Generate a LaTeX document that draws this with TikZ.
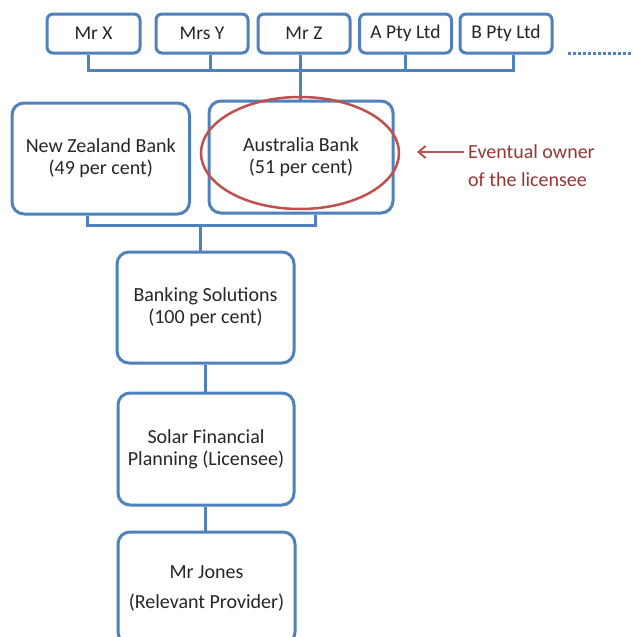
\documentclass[tikz,border=0pt]{standalone}
\usepackage{fontspec}
\setmainfont{Carlito}
\usetikzlibrary{arrows.meta,shapes.geometric}
\definecolor{boxblue}{HTML}{4F81BD}
\definecolor{ovred}{HTML}{C0504D}
\definecolor{txtred}{HTML}{953735}
\tikzset{
  bigbox/.style={draw=boxblue, line width=3pt, rounded corners=12pt, minimum width=177pt, minimum height=111pt, align=center, inner sep=0pt, font=\fontsize{20}{22}\selectfont, text=black!85},
  smallbox/.style={draw=boxblue, line width=3pt, rounded corners=6pt, minimum width=92pt, minimum height=39pt, align=center, inner sep=0pt, font=\fontsize{19.5}{20}\selectfont, text=black!85},
  conn/.style={draw=boxblue, line width=3pt},
}
\begin{document}
\begin{tikzpicture}[x=1pt,y=-1pt]
\clip (0,0) rectangle (632,637);
\fill[white] (0,0) rectangle (632,637);
% top row
\node[smallbox, minimum width=93pt] (mrx) at (93.5,33.5) {Mr X};
\node[smallbox] (mrsy) at (202,33.5) {Mrs Y};
\node[smallbox] (mrz) at (304,33.5) {Mr Z};
\node[smallbox] (apty) at (405.5,33.5) {A Pty Ltd};
\node[smallbox] (bpty) at (506,33.5) {B Pty Ltd};
\coordinate (dotA) at (568,53);
\coordinate (dotB) at (632,53);
\draw[boxblue, line width=3pt, dotted] (dotA) -- (dotB);
% bus 1
\coordinate (d1) at (88,70);
\coordinate (d2) at (210,70);
\coordinate (d3) at (300,70);
\coordinate (d4) at (405,70);
\coordinate (d5) at (513,70);
\draw[conn] (d1 |- mrx.south) -- (d1);
\draw[conn] (d2 |- mrsy.south) -- (d2);
\draw[conn] (d3 |- mrz.south) -- (d3);
\draw[conn] (d4 |- apty.south) -- (d4);
\draw[conn] (d5 |- bpty.south) -- (d5);
\draw[conn, line cap=rect] (d1) -- (d5);
% second level
\node[bigbox, minimum width=177.5pt] (nz) at (100.75,158.5) {New Zealand Bank\\(49 per cent)};
\node[bigbox, minimum width=184pt, minimum height=112pt] (aus) at (301,157) {Australia Bank\\(51 per cent)};
\draw[conn] (d3) -- (d3 |- aus.north);
% bus 2
\coordinate (e1) at (87,225);
\coordinate (e2) at (315,225);
\coordinate (e3) at (200,225);
\draw[conn] (e1 |- nz.south) -- (e1);
\draw[conn] (e2 |- aus.south) -- (e2);
\draw[conn, line cap=rect] (e1) -- (e2);
% chain
\node[bigbox] (bank) at (205.5,307.5) {Banking Solutions\\(100 per cent)};
\draw[conn] (e3) -- (e3 |- bank.north);
\node[bigbox, minimum width=176pt, minimum height=112pt] (solar) at (206,449) {Solar Financial\\Planning (Licensee)};
\node[bigbox, minimum height=112pt] (jones) at (206.5,588) {Mr Jones\\[8pt](Relevant Provider)};
\draw[conn] (bank.south -| 205,0) -- (solar.north -| 205,0);
\draw[conn] (solar.south -| 205,0) -- (jones.north -| 205,0);
% highlight
\node[draw=ovred, line width=2.5pt, ellipse, minimum width=198pt, minimum height=112pt, inner sep=0pt] (oval) at (300,153) {};
\node[anchor=west, text=txtred, align=left, font=\fontsize{20}{28}\selectfont, inner sep=0pt] (note) at (468,166) {Eventual owner\\of the licensee};
\coordinate (tip) at (417,152);
\draw[ovred, line width=2pt, -{Straight Barb[length=7pt,width=12pt]}] (note.west |- tip) ++(-4,0) -- (tip);
\end{tikzpicture}
\end{document}
